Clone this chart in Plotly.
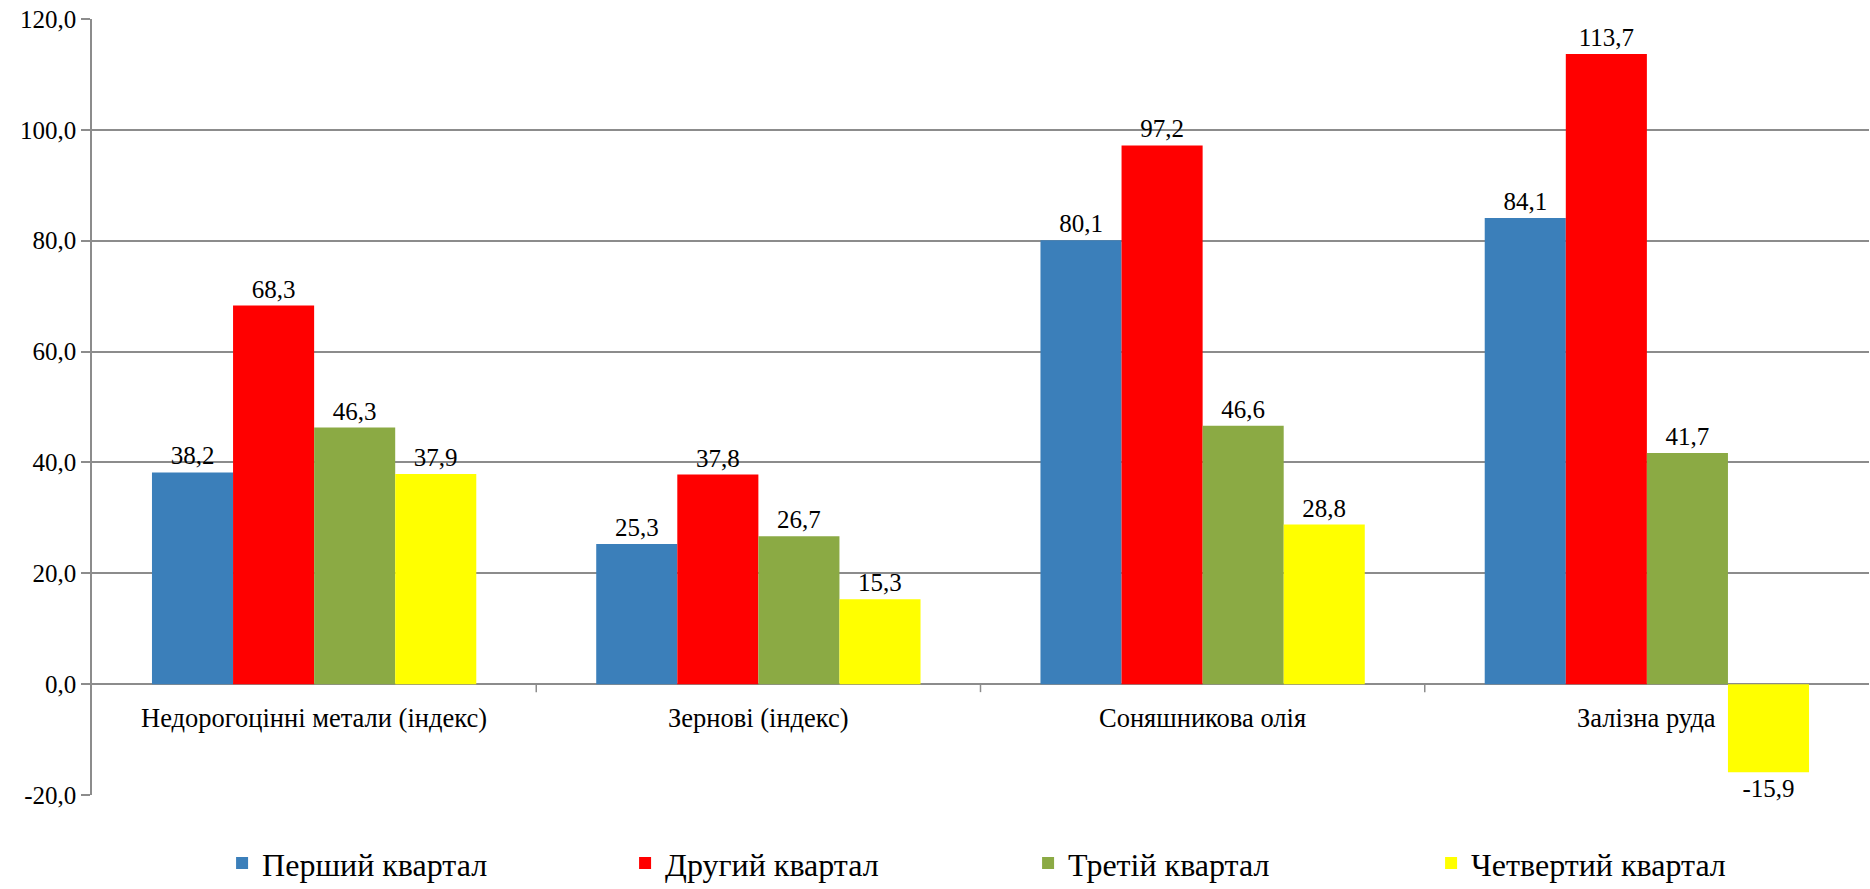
import plotly.graph_objects as go

categories = ['Недорогоцінні метали (індекс)', 'Зернові (індекс)', 'Соняшникова олія', 'Залізна руда']
q1 = [38.2, 25.3, 80.1, 84.1]
q2 = [68.3, 37.8, 97.2, 113.7]
q3 = [46.3, 26.7, 46.6, 41.7]
q4 = [37.9, 15.3, 28.8, -15.9]
series_names = ['Перший квартал', 'Другий квартал', 'Третій квартал', 'Четвертий квартал']
series_colors = ['#3B7FBA', '#FF0000', '#8BAA44', '#FFFF00']

y_tickvals = [-20, 0, 20, 40, 60, 80, 100, 120]
y_ticktext = ['-20,0', '0,0', '20,0', '40,0', '60,0', '80,0', '100,0', '120,0']

FONT = 'Liberation Serif'
GRID = '#8C8C8C'


def fmt(v):
    # comma decimal, plain hyphen for negatives
    return f'{v:.1f}'.replace('.', ',')


fig = go.Figure()

for name, vals, color in zip(series_names, [q1, q2, q3, q4], series_colors):
    fig.add_trace(go.Bar(
        x=categories, y=vals, name=name,
        marker=dict(color=color, line=dict(width=0)),
        text=[fmt(v) for v in vals],
        textposition='outside',
        constraintext='none',
        textfont=dict(family=FONT, size=25, color='black'),
        cliponaxis=False,
    ))

# category labels sit just under the zero line, like the Excel original
for cat in categories:
    fig.add_annotation(x=cat, y=0, xref='x', yref='y', text=cat,
                       showarrow=False, yanchor='top', yshift=-17,
                       font=dict(family=FONT, size=26.5, color='black'))

# small ticks between categories on the zero line
for i in range(1, len(categories)):
    fig.add_shape(type='line', xref='x', yref='y', x0=i - 0.5, x1=i - 0.5,
                  ysizemode='pixel', yanchor=0, y0=0, y1=-8,
                  line=dict(color=GRID, width=1.5))

fig.update_layout(
    width=1870, height=889,
    margin=dict(l=92, r=1, t=19, b=94, autoexpand=False),
    paper_bgcolor='white', plot_bgcolor='white',
    barmode='group', bargap=0.27, bargroupgap=0,
    font=dict(family=FONT, size=25, color='black'),
    showlegend=True,
    legend=dict(orientation='h', x=0.0732, xanchor='left',
                y=0.029, yref='container', yanchor='middle',
                entrywidth=358, entrywidthmode='pixels',
                font=dict(family=FONT, size=32, color='black'),
                traceorder='normal'),
    xaxis=dict(showticklabels=False, showgrid=False, showline=False, ticks=''),
    yaxis=dict(range=[-20, 120], tickvals=y_tickvals, ticktext=y_ticktext,
               automargin=False,
               showgrid=True, gridcolor=GRID, gridwidth=1.5,
               zeroline=True, zerolinecolor=GRID, zerolinewidth=1.5,
               showline=True, linecolor=GRID, linewidth=1.5,
               ticks='outside', ticklen=9, tickcolor=GRID, tickwidth=1.5,
               tickfont=dict(family=FONT, size=25, color='black')),
)

# drop the browser's default 8px body margin so the figure fills the window
fig.write_html('out.html', config={'displayModeBar': False},
               post_script="document.body.style.margin='0';document.body.style.overflow='hidden';")
